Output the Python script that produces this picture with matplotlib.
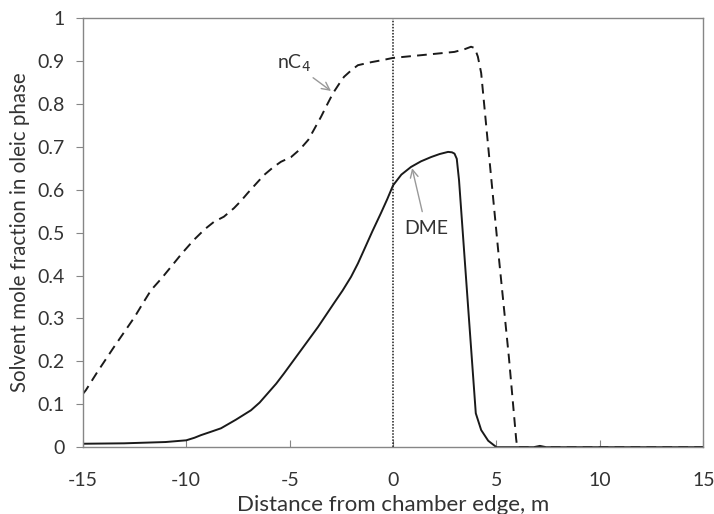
import matplotlib.pyplot as plt

plt.rcParams['font.family'] = ['Lato', 'DejaVu Sans']

# nC4 (dashed)
x_nc4 = [-15, -14.85, -14.3, -13.5, -13.0, -12.5, -12.1, -11.7, -11.2, -10.74, -10.2, -9.63,
         -9.1, -8.66, -8.18, -7.69, -7.35, -7.03, -6.6, -6.24, -5.8, -5.42, -4.93, -4.5, -4.1,
         -3.8, -3.48, -3.2, -2.9, -2.6, -2.37, -2.0, -1.7, -1.06, -0.5, 0, 1.5, 2.97, 3.5,
         3.77, 3.95, 4.1, 4.26, 4.74, 5.14, 5.6, 5.95, 6.0, 15]
y_nc4 = [0.124, 0.133, 0.175, 0.233, 0.268, 0.303, 0.335, 0.366, 0.393, 0.42, 0.452, 0.483,
         0.508, 0.525, 0.537, 0.557, 0.574, 0.592, 0.615, 0.634, 0.652, 0.665, 0.676, 0.694, 0.716,
         0.742, 0.77, 0.797, 0.825, 0.847, 0.863, 0.879, 0.89, 0.897, 0.902, 0.907, 0.914, 0.921, 0.928,
         0.933, 0.93, 0.91, 0.872, 0.63, 0.43, 0.21, 0.02, 0.0, 0.0]

# DME (solid)
x_dme = [-15, -13, -11, -10, -9.6, -9.29, -8.8, -8.32, -7.6, -6.87, -6.45, -6.05, -5.65, -5.27,
         -4.86, -4.45, -4.04, -3.63, -3.24, -2.85, -2.44, -2.03, -1.7, -1.4, -1.0, -0.58, -0.28,
         0, 0.4, 0.87, 1.35, 1.84, 2.25, 2.66, 2.85, 2.97, 3.08, 3.19, 3.63, 4.0, 4.26, 4.6, 5.0,
         6.8, 7.1, 7.4, 15]
y_dme = [0.008, 0.009, 0.012, 0.016, 0.022, 0.028, 0.036, 0.044, 0.064, 0.086, 0.104, 0.126,
         0.148, 0.172, 0.199, 0.226, 0.253, 0.28, 0.308, 0.336, 0.365, 0.397, 0.428, 0.46, 0.503,
         0.546, 0.578, 0.61, 0.635, 0.653, 0.666, 0.676, 0.683, 0.688, 0.687, 0.684, 0.672, 0.622,
         0.326, 0.079, 0.04, 0.015, 0.0, 0.0, 0.003, 0.0, 0.0]

fig = plt.figure(figsize=(7.14, 5.14), dpi=100)
ax = fig.add_axes([0.116, 0.13, 0.869, 0.835])

ax.plot(x_nc4, y_nc4, color='#1a1a1a', lw=1.4, dashes=(5, 3.2))
ax.plot(x_dme, y_dme, color='#1a1a1a', lw=1.4)
ax.axvline(0, color='#1a1a1a', lw=1.1, dashes=(1, 1))

ax.annotate('nC$_4$', xy=(-3.0, 0.83), xytext=(-4.8, 0.894), fontsize=14, color='#333333',
            ha='center', va='center',
            arrowprops=dict(arrowstyle='->', color='#999999', lw=1, shrinkA=1, shrinkB=0))
ax.annotate('DME', xy=(0.92, 0.65), xytext=(1.6, 0.51), fontsize=14, color='#333333',
            ha='center', va='center',
            arrowprops=dict(arrowstyle='->', color='#999999', lw=1, shrinkA=4, shrinkB=0))

ax.set_xlim(-15, 15)
ax.set_ylim(0, 1)
ax.set_xticks([-15, -10, -5, 0, 5, 10, 15])
ax.set_xticklabels(['-15', '-10', '-5', '0', '5', '10', '15'])
ax.set_yticks([0, 0.1, 0.2, 0.3, 0.4, 0.5, 0.6, 0.7, 0.8, 0.9, 1])
ax.set_yticklabels(['0', '0.1', '0.2', '0.3', '0.4', '0.5', '0.6', '0.7', '0.8', '0.9', '1'])

for s in ax.spines.values():
    s.set_color('#868686')
    s.set_linewidth(1)
ax.tick_params(axis='x', direction='in', length=5, color='#868686', labelsize=14,
               labelcolor='#333333', pad=18)
ax.tick_params(axis='y', direction='out', length=5, color='#868686', labelsize=14,
               labelcolor='#333333', pad=8)

ax.set_xlabel('Distance from chamber edge, m', fontsize=16, color='#333333', labelpad=4)
ax.set_ylabel('Solvent mole fraction in oleic phase', fontsize=14.8, color='#333333', labelpad=5)

plt.savefig('out.png', dpi=100)
